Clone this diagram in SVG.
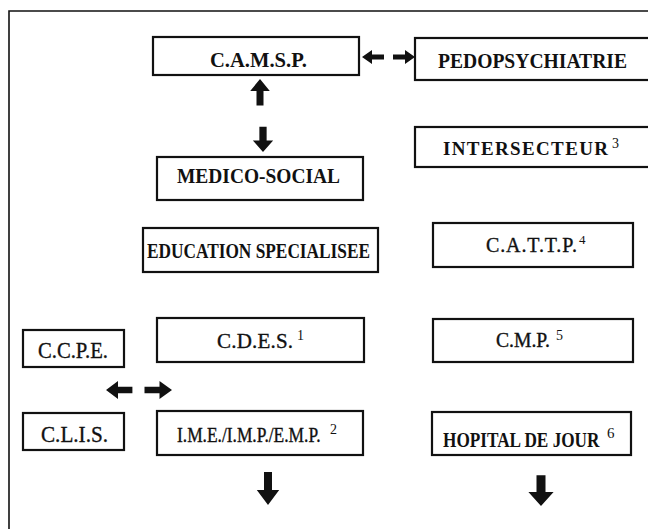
<svg xmlns="http://www.w3.org/2000/svg" width="648" height="529" viewBox="0 0 648 529">
<style>
.box{fill:#fff;stroke:#111;stroke-width:2.2}
.t{font-family:"Liberation Serif","DejaVu Serif",serif;fill:#111}
.b{font-weight:bold}
.r{stroke:#111;stroke-width:0.35}
.sup{font-family:"Liberation Serif","DejaVu Serif",serif;fill:#111}
.arr{fill:#111}
</style>
<defs>
<path id="arr" d="M0,0 L-10,-7 L-10,-2.5 L-22,-2.5 L-22,2.5 L-10,2.5 L-10,7 Z"/>
</defs>
<rect width="648" height="529" fill="#fff"/>
<path d="M9,529 L9,11 L650,11" fill="none" stroke="#111" stroke-width="1.6"/>

<g id="camsp">
<rect class="box" x="153" y="37" width="206" height="38"/>
<text class="t b" x="210" y="67" font-size="20" textLength="97" lengthAdjust="spacingAndGlyphs">C.A.M.S.P.</text>
</g>
<g id="pedopsychiatrie">
<rect class="box" x="415" y="38" width="240" height="42"/>
<text class="t b" x="438" y="68" font-size="20" textLength="189" lengthAdjust="spacingAndGlyphs">PEDOPSYCHIATRIE</text>
</g>
<g id="medico-social">
<rect class="box" x="157" y="157" width="206" height="43"/>
<text class="t b" x="177" y="183" font-size="21" textLength="163" lengthAdjust="spacingAndGlyphs">MEDICO-SOCIAL</text>
</g>
<g id="intersecteur">
<rect class="box" x="415" y="127" width="240" height="40"/>
<text class="t b" x="443" y="155" font-size="19" textLength="165">INTERSECTEUR</text>
<text class="sup" x="612" y="148" font-size="14">3</text>
</g>
<g id="education">
<rect class="box" x="143" y="228" width="235" height="44"/>
<text class="t b" x="147" y="258" font-size="21" textLength="223" lengthAdjust="spacingAndGlyphs">EDUCATION SPECIALISEE</text>
</g>
<g id="cattp">
<rect class="box" x="433" y="223" width="200" height="44"/>
<text class="t r" x="486" y="252" font-size="20" textLength="91">C.A.T.T.P.</text>
<text class="sup" x="579" y="244" font-size="13">4</text>
</g>
<g id="ccpe">
<rect class="box" x="23" y="330" width="101" height="37"/>
<text class="t r" x="38" y="358" font-size="24" textLength="70" lengthAdjust="spacingAndGlyphs">C.C.P.E.</text>
</g>
<g id="cdes">
<rect class="box" x="157" y="318" width="207" height="44"/>
<text class="t r" x="217" y="348" font-size="21" textLength="76">C.D.E.S.</text>
<text class="sup" x="297" y="340" font-size="14">1</text>
</g>
<g id="cmp">
<rect class="box" x="433" y="319" width="200" height="43"/>
<text class="t r" x="496" y="347" font-size="20" textLength="54" lengthAdjust="spacingAndGlyphs">C.M.P.</text>
<text class="sup" x="556" y="340" font-size="14">5</text>
</g>
<g id="clis">
<rect class="box" x="23" y="413" width="101" height="37"/>
<text class="t r" x="41" y="442" font-size="24" textLength="67" lengthAdjust="spacingAndGlyphs">C.L.I.S.</text>
</g>
<g id="ime">
<rect class="box" x="157" y="411" width="206" height="44"/>
<text class="t r" transform="translate(177,442) scale(0.87,1)" font-size="20">I.M.E./I.M.P./E.M.P.</text>
<text class="sup" x="330" y="434" font-size="14">2</text>
</g>
<g id="hopital">
<rect class="box" x="432" y="412" width="199" height="43"/>
<text class="t b" transform="translate(443,447) scale(0.82,1)" font-size="21">HOPITAL DE JOUR</text>
<text class="sup" x="607" y="438" font-size="15">6</text>
</g>

<g id="connectors" class="arr">
<use href="#arr" transform="translate(362,57) rotate(180)"/>
<use href="#arr" transform="translate(415,57)"/>
<use href="#arr" transform="translate(260,79) rotate(-90) scale(1.2,1.4)"/>
<use href="#arr" transform="translate(263,152) rotate(90) scale(1.15,1.45)"/>
<use href="#arr" transform="translate(106,390) rotate(180) scale(1.2,1.3)"/>
<use href="#arr" transform="translate(172,390) scale(1.25,1.3)"/>
<use href="#arr" transform="translate(268,505) rotate(90) scale(1.5,1.6)"/>
<use href="#arr" transform="translate(541,506) rotate(90) scale(1.4,1.8)"/>
</g>
</svg>
